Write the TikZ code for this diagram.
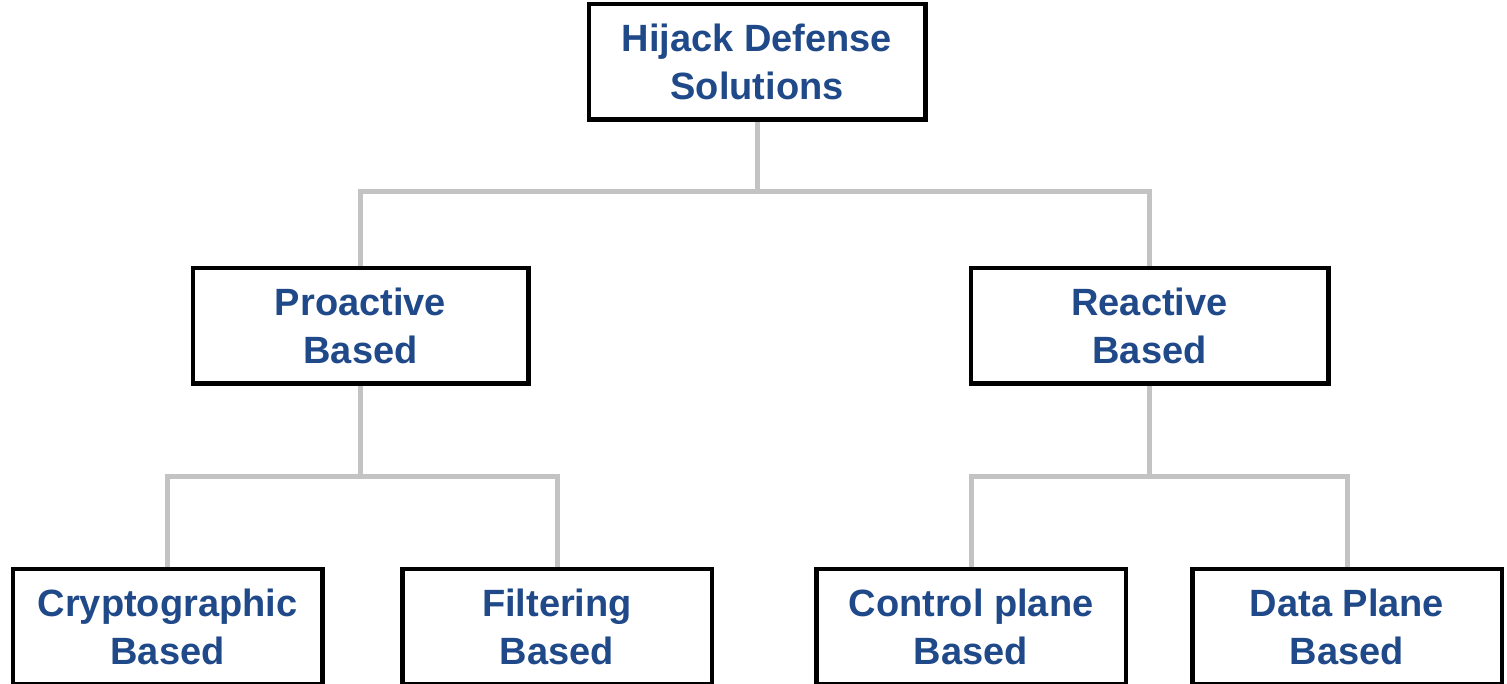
\documentclass[tikz,border=0pt]{standalone}
\usepackage{fontspec}
\setmainfont{Liberation Sans}
\definecolor{txtblue}{RGB}{31,73,136}
\definecolor{conngray}{RGB}{195,195,195}
\tikzset{
  catbox/.style={draw=black, line width=3pt, fill=white, minimum width=333pt, minimum height=114pt,
    align=center, inner sep=0pt, text=txtblue, font=\fontsize{38}{48}\selectfont\bfseries},
  leafbox/.style={catbox, minimum width=308pt},
  conn/.style={draw=conngray, line width=5pt}
}
\begin{document}
\begin{tikzpicture}[x=1pt,y=-1pt]
\clip (0,0) rectangle (1507,683);
\fill[white] (0,0) rectangle (1507,683);
\node[catbox, minimum width=335pt] (root) at (757,61.5) {Hijack Defense\\Solutions};
\node[catbox, minimum width=334pt] (pro) at (360.5,325.5) {Proactive\\Based};
\node[catbox, minimum width=356pt] (rea) at (1149.5,325.5) {Reactive\\Based};
\node[leafbox] (cry) at (167.5,626.5) {Cryptographic\\Based};
\node[leafbox] (fil) at (557,626.5) {Filtering\\Based};
\node[leafbox] (ctl) at (971,626.5) {Control plane\\Based};
\node[leafbox] (dat) at (1347,626.5) {Data Plane\\Based};
\coordinate (j0) at ([yshift=-71pt]root.south);
\coordinate (j1) at ([yshift=-92pt]pro.south);
\coordinate (j2) at ([yshift=-92pt]rea.south);
\draw[conn] (root.south) -- (j0);
\draw[conn] (pro.north) |- (j0) -| (rea.north);
\draw[conn] (pro.south) -- (j1);
\draw[conn] (cry.north) |- (j1) -| (fil.north);
\draw[conn] (rea.south) -- (j2);
\draw[conn] (ctl.north) |- (j2) -| (dat.north);
% redraw box borders over connector ends
\foreach \n in {root,pro,rea,cry,fil,ctl,dat}{
  \draw[black, line width=3pt] (\n.south west) rectangle (\n.north east);
}
\end{tikzpicture}
\end{document}
